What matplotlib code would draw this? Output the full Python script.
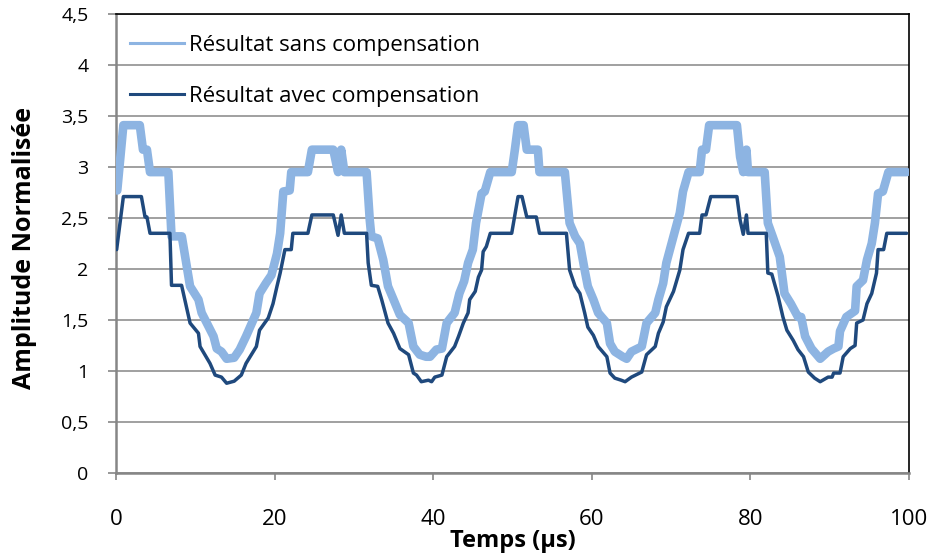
import matplotlib
matplotlib.use('Agg')
import matplotlib.pyplot as plt
from matplotlib.lines import Line2D

# ---------------- data ----------------
x_sans = [0.16, 0.93, 3.0, 3.4, 3.9, 4.29, 6.6, 7.0, 8.3, 9.34, 10.4, 10.8, 12.3, 12.7, 13.3,
          13.95, 14.9, 15.6, 16.4, 17.7, 18.1, 18.9, 19.6, 20.3, 20.7, 21.1, 21.9, 22.1, 24.2,
          24.7, 27.4, 28.0, 28.4, 28.8, 31.6, 32.0, 32.2, 33.0, 33.7, 34.3, 35.0, 35.8, 36.9,
          37.5, 38.3, 39.1, 39.6, 40.4, 41.1, 41.7, 42.7, 43.3, 43.9, 44.4, 45.0, 45.4, 46.1,
          46.5, 47.2, 49.9, 50.3, 50.7, 51.4, 51.8, 53.2, 53.4, 56.6, 57.2, 57.9, 58.5, 59.1,
          59.5, 60.2, 60.8, 61.9, 62.3, 62.9, 63.9, 64.4, 65.0, 66.3, 66.9, 68.0, 68.4, 69.0,
          69.4, 70.3, 71.1, 71.5, 72.2, 73.6, 73.9, 74.4, 74.8, 78.3, 78.7, 79.1, 79.5, 79.7,
          81.8, 82.2, 82.8, 83.7, 84.3, 85.1, 86.0, 86.4, 86.9, 87.7, 88.8, 89.8, 90.5, 91.1,
          91.3, 92.1, 93.2, 93.4, 94.2, 94.7, 95.3, 95.7, 96.1, 96.7, 97.4, 99.7]
y_sans = [2.77, 3.41, 3.41, 3.17, 3.17, 2.95, 2.95, 2.32, 2.32, 1.83, 1.70, 1.57, 1.34, 1.22, 1.19,
          1.12, 1.13, 1.21, 1.34, 1.57, 1.76, 1.86, 1.94, 2.15, 2.35, 2.76, 2.77, 2.95, 2.95,
          3.17, 3.17, 2.95, 3.17, 2.95, 2.95, 2.48, 2.32, 2.30, 2.09, 1.83, 1.70, 1.55, 1.47,
          1.24, 1.16, 1.14, 1.14, 1.21, 1.22, 1.47, 1.57, 1.76, 1.88, 2.06, 2.19, 2.45, 2.74,
          2.76, 2.95, 2.95, 3.17, 3.41, 3.41, 3.17, 3.17, 2.95, 2.95, 2.45, 2.32, 2.25, 1.99,
          1.83, 1.70, 1.57, 1.47, 1.27, 1.19, 1.14, 1.12, 1.19, 1.24, 1.47, 1.57, 1.70, 1.86,
          2.06, 2.32, 2.55, 2.76, 2.95, 2.95, 3.17, 3.17, 3.41, 3.41, 3.10, 2.95, 3.17, 2.95,
          2.95, 2.45, 2.32, 2.12, 1.76, 1.66, 1.53, 1.53, 1.34, 1.22, 1.12, 1.19, 1.22, 1.24,
          1.39, 1.53, 1.59, 1.83, 1.89, 2.09, 2.25, 2.45, 2.74, 2.76, 2.95, 2.95]

x_avec = [0.08, 0.93, 3.2, 3.66, 3.9, 4.29, 6.8, 7.0, 8.27, 9.34, 10.4, 10.6, 11.85, 12.5, 13.3,
          13.95, 14.9, 15.8, 16.4, 17.7, 18.1, 19.2, 19.8, 20.3, 20.7, 21.3, 22.1, 22.3, 24.2,
          24.7, 27.4, 28.0, 28.4, 28.8, 31.6, 31.8, 32.2, 33.0, 33.5, 34.3, 35.0, 35.8, 36.9,
          37.5, 37.9, 38.5, 39.4, 39.8, 40.2, 41.1, 41.7, 42.7, 43.2, 43.8, 44.4, 44.6, 45.3,
          45.7, 46.1, 46.3, 46.7, 47.2, 49.9, 50.3, 50.7, 51.2, 51.8, 53.0, 53.4, 56.8, 57.2,
          57.9, 58.5, 59.1, 59.5, 60.2, 60.8, 61.9, 62.3, 62.9, 63.7, 64.2, 65.0, 66.3, 66.9,
          68.0, 68.4, 69.0, 69.4, 70.3, 71.1, 71.5, 72.2, 73.6, 73.9, 74.4, 75.0, 78.3, 78.7,
          79.1, 79.5, 79.7, 82.0, 82.2, 82.7, 83.5, 84.1, 84.6, 85.4, 86.0, 86.7, 87.3, 88.1,
          88.8, 89.8, 90.3, 90.5, 91.3, 91.7, 92.6, 93.2, 93.4, 94.2, 94.7, 95.3, 95.9, 96.1,
          96.8, 97.2, 99.7]
y_avec = [2.19, 2.71, 2.71, 2.51, 2.51, 2.35, 2.35, 1.84, 1.84, 1.47, 1.37, 1.24, 1.075, 0.96, 0.94,
          0.88, 0.90, 0.96, 1.075, 1.24, 1.40, 1.52, 1.66, 1.83, 1.96, 2.19, 2.19, 2.35, 2.35,
          2.53, 2.53, 2.33, 2.53, 2.35, 2.35, 2.06, 1.84, 1.83, 1.70, 1.47, 1.37, 1.22, 1.16,
          0.98, 0.96, 0.895, 0.91, 0.895, 0.94, 0.96, 1.14, 1.24, 1.34, 1.47, 1.57, 1.70, 1.78,
          1.92, 1.99, 2.17, 2.22, 2.35, 2.35, 2.53, 2.71, 2.71, 2.51, 2.51, 2.35, 2.35, 1.99,
          1.83, 1.76, 1.57, 1.43, 1.35, 1.24, 1.14, 0.98, 0.93, 0.91, 0.895, 0.94, 0.99, 1.16,
          1.24, 1.37, 1.48, 1.63, 1.78, 1.99, 2.19, 2.35, 2.35, 2.53, 2.53, 2.71, 2.71, 2.48,
          2.34, 2.53, 2.35, 2.35, 1.96, 1.95, 1.73, 1.53, 1.40, 1.30, 1.21, 1.14, 0.99, 0.93,
          0.895, 0.94, 0.94, 0.98, 0.98, 1.14, 1.22, 1.25, 1.47, 1.50, 1.66, 1.76, 1.96, 2.19,
          2.19, 2.35, 2.35]

series_labels = ['Résultat sans compensation', 'Résultat avec compensation']
x_ticks = [0, 20, 40, 60, 80, 100]
x_tick_labels = ['0', '20', '40', '60', '80', '100']
y_ticks = [0, 0.5, 1, 1.5, 2, 2.5, 3, 3.5, 4, 4.5]
y_tick_labels = ['0', '0,5', '1', '1,5', '2', '2,5', '3', '3,5', '4', '4,5']
x_label = 'Temps (µs)'
y_label = 'Amplitude Normalisée'

# ---------------- style ----------------
plt.rcParams['font.family'] = ['Open Sans', 'DejaVu Sans']
c_sans = '#8DB4E2'
c_avec = '#1F497D'
grey = '#868686'

fig = plt.figure(figsize=(9.33, 5.56), dpi=100)
ax = fig.add_axes([116 / 933, 1 - 473 / 556, 793 / 933, 459 / 556])

ax.plot(x_sans, y_sans, color=c_sans, lw=6.2, solid_joinstyle='round',
        solid_capstyle='round', zorder=3)
ax.plot(x_avec, y_avec, color=c_avec, lw=2.5, solid_joinstyle='round',
        solid_capstyle='round', zorder=4)

ax.set_xlim(0, 100)
ax.set_ylim(0, 4.5)
ax.set_xticks(x_ticks)
ax.set_xticklabels(x_tick_labels)
ax.set_yticks(y_ticks)
ax.set_yticklabels(y_tick_labels)

ax.tick_params(axis='x', direction='out', length=5, width=1.2, color=grey,
               pad=21, labelsize=16)
ax.tick_params(axis='y', direction='out', length=5.8, width=1.2, color=grey,
               pad=14, labelsize=14)

for s in ('left', 'bottom'):
    ax.spines[s].set_color(grey)
    ax.spines[s].set_linewidth(1.8)
for s in ('top', 'right'):
    ax.spines[s].set_color('black')
    ax.spines[s].set_linewidth(1.2)

ax.yaxis.grid(True, color=grey, lw=1.1)
ax.set_axisbelow(True)

handles = [Line2D([], [], color=c_sans, lw=2.2), Line2D([], [], color=c_avec, lw=2.2)]
ax.legend(handles, series_labels, loc='upper left', bbox_to_anchor=(0.0177, 0.955),
          frameon=False, fontsize=16, handlelength=2.45, handletextpad=0.2,
          labelspacing=1.35, borderpad=0, borderaxespad=0)

ax.set_ylabel(y_label, fontsize=18, fontweight='bold')
ax.yaxis.set_label_coords(-0.0996, 0.49)
ax.set_xlabel(x_label, fontsize=17, fontweight='bold')
ax.xaxis.set_label_coords(0.5, -0.122)

fig.savefig('out.png', dpi=100)
